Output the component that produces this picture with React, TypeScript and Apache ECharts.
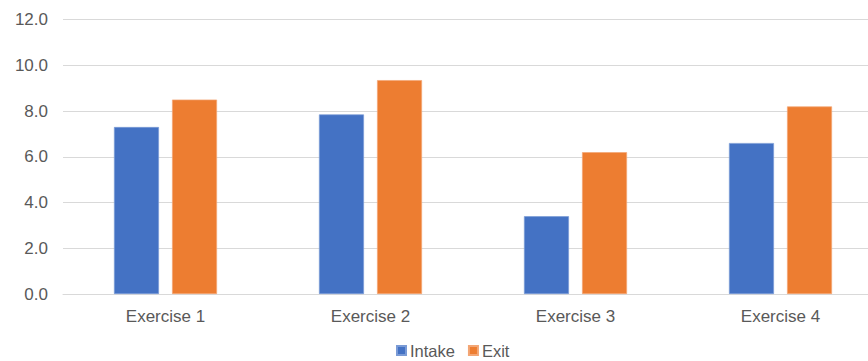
import React, { useEffect, useRef } from "react";
import * as echarts from "echarts";

const categories = ["Exercise 1", "Exercise 2", "Exercise 3", "Exercise 4"];
const intake = [7.3, 7.85, 3.4, 6.6];
const exitVals = [8.5, 9.35, 6.2, 8.2];
const yMin = 0;
const yMax = 12;
const yInterval = 2;

export default function App() {
  const ref = useRef<HTMLDivElement>(null);
  useEffect(() => {
    document.body.style.margin = "0";
    document.body.style.overflow = "hidden";
    const chart = echarts.init(ref.current!, null, { renderer: "svg" });
    const font = "Arial, 'Liberation Sans', sans-serif";
    chart.setOption({
      animation: false,
      textStyle: { fontFamily: font },
      grid: { left: 63, right: 0, top: 19.5, bottom: 67, containLabel: false },
      legend: {
        top: 342,
        left: 396,
        padding: 0,
        itemWidth: 9,
        itemHeight: 9,
        itemGap: 13,
        icon: "rect",
        textStyle: {
          color: "#595959",
          fontSize: 16.5,
          lineHeight: 16,
          fontFamily: font,
          padding: [0, 0, 0, -1],
        },
        data: ["Intake", "Exit"],
      },
      xAxis: {
        type: "category",
        data: categories,
        axisLine: { lineStyle: { color: "#d9d9d9", width: 1 } },
        axisTick: { show: false },
        axisLabel: { color: "#595959", fontSize: 17, margin: 14, fontFamily: font },
      },
      yAxis: {
        type: "value",
        min: yMin,
        max: yMax,
        interval: yInterval,
        axisLine: { show: false },
        axisTick: { show: false },
        splitLine: { lineStyle: { color: "#d9d9d9", width: 1 } },
        axisLabel: {
          color: "#595959",
          fontSize: 17,
          margin: 15,
          fontFamily: font,
          formatter: (v: number) => v.toFixed(1),
        },
      },
      series: [
        {
          name: "Intake",
          type: "bar",
          data: intake,
          barWidth: 45,
          barGap: "29%",
          itemStyle: { color: "#4472C4", borderColor: "#7a9bd6", borderWidth: 0.7 },
        },
        {
          name: "Exit",
          type: "bar",
          data: exitVals,
          barWidth: 45,
          barGap: "29%",
          itemStyle: { color: "#ED7D31", borderColor: "#f3a675", borderWidth: 0.7 },
        },
      ],
    });
    return () => chart.dispose();
  }, []);
  return (
    <div style={{ width: 868, height: 361, overflow: "hidden", position: "relative" }}>
      <div ref={ref} style={{ width: 883, height: 361, position: "absolute", left: 0, top: 0 }} />
    </div>
  );
}
